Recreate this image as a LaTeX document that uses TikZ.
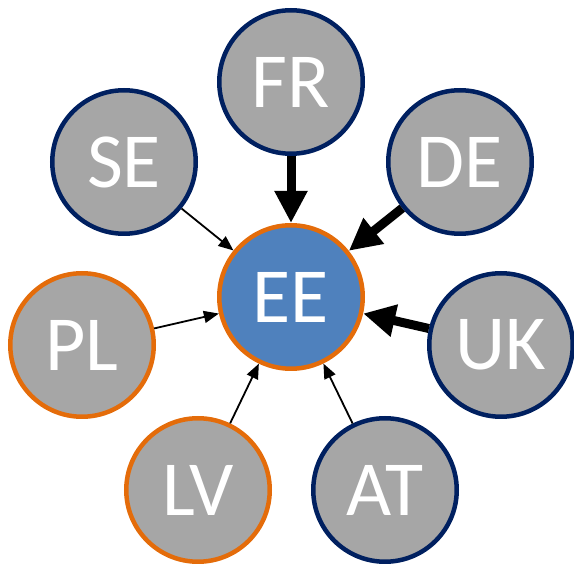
\documentclass[tikz,border=0pt]{standalone}
\usepackage{fontspec}
\setmainfont{Carlito}
\usepackage{xcolor}
\usepackage{tikz}
\usetikzlibrary{arrows.meta}
\definecolor{countrygray}{RGB}{166, 166, 166}
\definecolor{centerblue}{RGB}{79, 129, 189}
\definecolor{borderorange}{RGB}{228, 108, 10}
\definecolor{bordernavy}{RGB}{0, 32, 96}
\newcommand{\countryfont}{\fontsize{78}{78}\selectfont}

\begin{document}
\begin{tikzpicture}[x=1pt, y=-1pt,
    country/.style={circle, minimum size=143.5pt, inner sep=0pt, line width=4.5pt,
        fill=countrygray, text=white, font=\countryfont},
    navy/.style={country, draw=bordernavy},
    orange/.style={country, draw=borderorange},
    strongflow/.style={line width=9pt, -{Triangle[length=32pt, width=31pt]}},
    weakflow/.style={line width=1.8pt, -{Triangle[length=15pt, width=12pt]}}]
    \useasboundingbox (0,0) rectangle (574,564);
    \node[orange, fill=centerblue] (ee) at (291,297) {EE};
    \node[navy] (fr) at (291,82) {FR};
    \node[navy] (se) at (124,162) {SE};
    \node[navy] (de) at (460,162) {DE};
    \node[orange] (pl) at (82,345) {PL};
    \node[navy] (uk) at (501,345) {UK};
    \node[orange] (lv) at (198,490) {LV};
    \node[navy] (at) at (385,490) {AT};
    \foreach \src in {fr, de, uk}
    {
        \draw[strongflow] (\src) -- (ee);
    }
    \foreach \src in {se, pl, lv, at}
    {
        \draw[weakflow] (\src) -- (ee);
    }
\end{tikzpicture}
\end{document}
